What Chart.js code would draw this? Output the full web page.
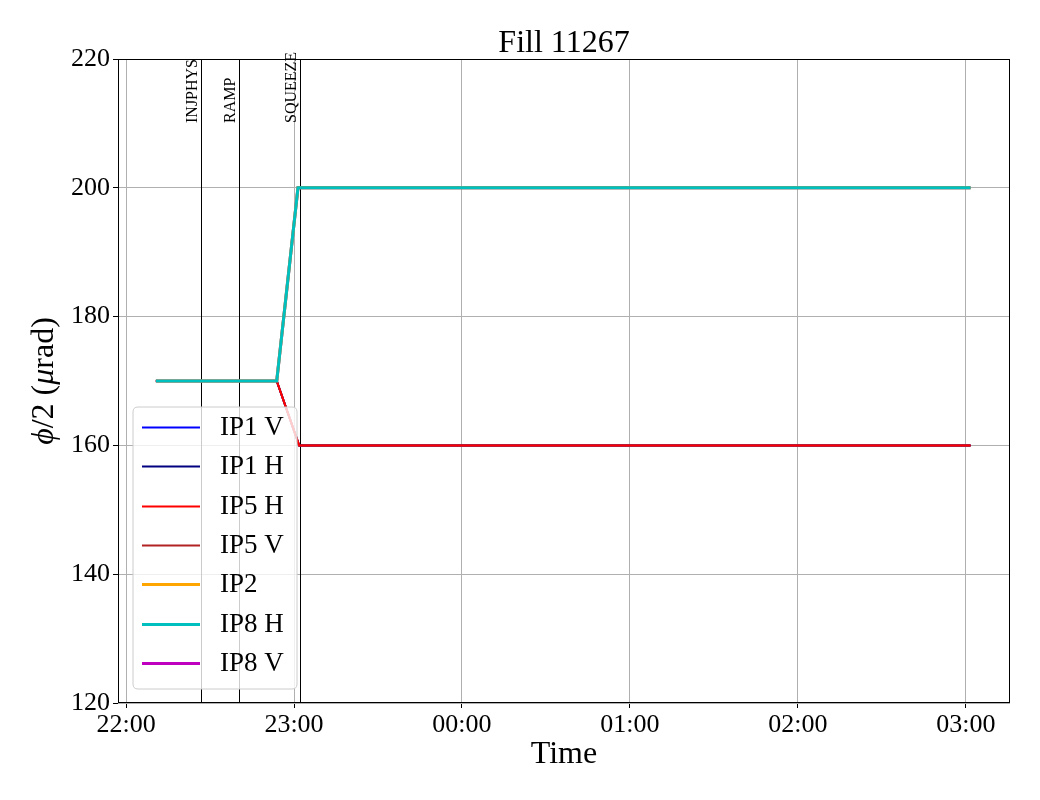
<!DOCTYPE html>
<html>
<head>
<meta charset="utf-8">
<script src="https://cdn.jsdelivr.net/npm/chart.js@4/dist/chart.umd.min.js"></script>
<style>
html,body{margin:0;padding:0;background:#fff;}
canvas{display:block;}
</style>
</head>
<body>
<canvas id="c" width="1040" height="800"></canvas>
<script>
// ---- data ----
const chartTitle = "Fill 11267";
const seriesNames = ["IP1 V", "IP1 H", "IP5 H", "IP5 V", "IP2", "IP8 H", "IP8 V"];
const ip15Times = ["22:10:40", "22:53:50", "23:01:50", "03:01:40"];
const ip15Values = [170, 170, 160, 160];
const ip28Times = ["22:10:40", "22:53:50", "23:01:25", "03:01:40"];
const ip28Values = [170, 170, 200, 200];
const markerNames = ["INJPHYS", "RAMP", "SQUEEZE"];
const markerTimes = ["22:26:40", "22:40:30", "23:02:10"];
const xTickTimes = ["22:00", "23:00", "00:00", "01:00", "02:00", "03:00"];
const yTickValues = [120, 140, 160, 180, 200, 220];
const xRange = ["21:57:08", "03:15:45"];

// minutes relative to 22:00
function toMin(s) {
  const p = s.split(":").map(Number);
  let h = p[0]; if (h < 12) h += 24;
  return (h - 22) * 60 + p[1] + (p[2] || 0) / 60;
}
function fmt(m) {
  let h = Math.floor(m / 60) + 22; const mm = Math.round(m - (h - 22) * 60);
  h = h % 24;
  return String(h).padStart(2, "0") + ":" + String(mm).padStart(2, "0");
}
function pts(times, vals) { return times.map((t, i) => ({ x: toMin(t), y: vals[i] })); }

const FONT = "'Liberation Serif', 'DejaVu Serif', serif";
const styles = [
  { color: "#0000ff", width: 2, order: 5 },
  { color: "#000080", width: 2, order: 4 },
  { color: "#ff0000", width: 2, order: 1 },
  { color: "#b22222", width: 2, order: 3 },
  { color: "#ffa500", width: 3, order: 2 },
  { color: "#00bfbf", width: 3, order: 0 },
  { color: "#bf00bf", width: 3, order: 6 }
];
const seriesData = [
  pts(ip15Times, ip15Values), pts(ip15Times, ip15Values), pts(ip15Times, ip15Values), pts(ip15Times, ip15Values),
  pts(ip28Times, ip28Values), pts(ip28Times, ip28Values), pts(ip28Times, ip28Values)
];

const datasets = seriesNames.map((n, i) => ({
  label: n,
  data: seriesData[i],
  borderColor: styles[i].color,
  backgroundColor: styles[i].color,
  borderWidth: styles[i].width,
  order: styles[i].order,
  pointRadius: 0,
  tension: 0,
  fill: false
}));

const decor = {
  id: "decor",
  beforeDatasetsDraw(chart) {
    const ctx = chart.ctx, a = chart.chartArea, xs = chart.scales.x;
    ctx.save();
    ctx.strokeStyle = "#000"; ctx.lineWidth = 1;
    ctx.font = "16px " + FONT; ctx.fillStyle = "#000";
    markerTimes.forEach((t, i) => {
      const x = Math.round(xs.getPixelForValue(toMin(t))) + 0.5;
      ctx.beginPath(); ctx.moveTo(x, a.top); ctx.lineTo(x, a.bottom); ctx.stroke();
      ctx.save();
      ctx.translate(x - 5, 123);
      ctx.rotate(-Math.PI / 2);
      ctx.textAlign = "left"; ctx.textBaseline = "alphabetic";
      ctx.fillText(markerNames[i], 0, 0);
      ctx.restore();
    });
    ctx.restore();
  },
  afterDatasetsDraw(chart) {
    const ctx = chart.ctx, a = chart.chartArea;
    ctx.save();
    ctx.strokeStyle = "#000"; ctx.lineWidth = 1;
    ctx.strokeRect(Math.round(a.left) + 0.5, Math.round(a.top) + 0.5, Math.round(a.right - a.left) - 1, Math.round(a.bottom - a.top) - 1);
    ctx.restore();
  },
  afterDraw(chart) {
    const ctx = chart.ctx, a = chart.chartArea;
    ctx.save();
    ctx.fillStyle = "#000";
    // title
    ctx.font = "32px " + FONT; ctx.textAlign = "center"; ctx.textBaseline = "alphabetic";
    ctx.fillText(chartTitle, (a.left + a.right) / 2, 52);
    // x title
    ctx.fillText("Time", (a.left + a.right) / 2, 763);
    // y title with italic parts
    const parts = [["ϕ", true], ["/2 (", false], ["μ", true], ["rad)", false]];
    let total = 0;
    parts.forEach(p => { ctx.font = (p[1] ? "italic " : "") + "32px " + FONT; total += ctx.measureText(p[0]).width; });
    ctx.save();
    ctx.translate(53, (a.top + a.bottom) / 2);
    ctx.rotate(-Math.PI / 2);
    ctx.textAlign = "left";
    let cx = -total / 2;
    parts.forEach(p => { ctx.font = (p[1] ? "italic " : "") + "32px " + FONT; ctx.fillText(p[0], cx, 0); cx += ctx.measureText(p[0]).width; });
    ctx.restore();
    // legend
    const bx = 133, by = 407, bw = 164, bh = 282, r = 5;
    ctx.beginPath();
    ctx.moveTo(bx + r, by); ctx.lineTo(bx + bw - r, by); ctx.quadraticCurveTo(bx + bw, by, bx + bw, by + r);
    ctx.lineTo(bx + bw, by + bh - r); ctx.quadraticCurveTo(bx + bw, by + bh, bx + bw - r, by + bh);
    ctx.lineTo(bx + r, by + bh); ctx.quadraticCurveTo(bx, by + bh, bx, by + bh - r);
    ctx.lineTo(bx, by + r); ctx.quadraticCurveTo(bx, by, bx + r, by);
    ctx.closePath();
    ctx.fillStyle = "rgba(255,255,255,0.8)"; ctx.fill();
    ctx.strokeStyle = "#cccccc"; ctx.lineWidth = 1; ctx.stroke();
    ctx.font = "27px " + FONT; ctx.textAlign = "left"; ctx.textBaseline = "middle";
    seriesNames.forEach((n, i) => {
      const y = 427 + i * 39.3;
      ctx.strokeStyle = styles[i].color; ctx.lineWidth = styles[i].width;
      ctx.beginPath(); ctx.moveTo(142, Math.round(y) + 0.5); ctx.lineTo(200, Math.round(y) + 0.5); ctx.stroke();
      ctx.fillStyle = "#000";
      ctx.fillText(n, 220, y + 1);
    });
    ctx.restore();
  }
};

new Chart(document.getElementById("c"), {
  type: "line",
  data: { datasets },
  options: {
    responsive: false,
    animation: false,
    devicePixelRatio: 1,
    layout: { padding: { left: 0, top: 59, right: 30, bottom: 0 } },
    plugins: { legend: { display: false }, tooltip: { enabled: false }, title: { display: false } },
    scales: {
      x: {
        type: "linear",
        min: toMin(xRange[0]), max: toMin(xRange[1]),
        afterBuildTicks(s) { s.ticks = xTickTimes.map(t => ({ value: toMin(t) })); },
        afterFit(s) { s.height = 97; },
        grid: { color: "#b0b0b0", lineWidth: 1, drawTicks: true, tickLength: 5, tickColor: "#000" },
        border: { display: false },
        ticks: { color: "#000", font: { family: FONT, size: 26 }, padding: 2, maxRotation: 0, callback: v => fmt(v) }
      },
      y: {
        type: "linear",
        min: yTickValues[0], max: yTickValues[yTickValues.length - 1],
        afterBuildTicks(s) { s.ticks = yTickValues.map(v => ({ value: v })); },
        afterFit(s) { s.width = 118; },
        grid: { color: "#b0b0b0", lineWidth: 1, drawTicks: true, tickLength: 5, tickColor: "#000" },
        border: { display: false },
        ticks: { color: "#000", font: { family: FONT, size: 26 }, padding: 3 }
      }
    }
  },
  plugins: [decor]
});
</script>
</body>
</html>
